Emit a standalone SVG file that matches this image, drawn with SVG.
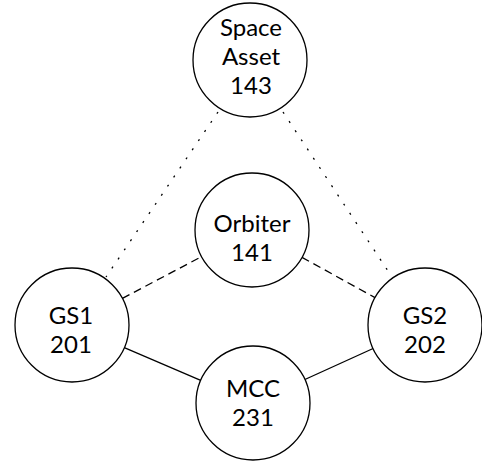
<svg xmlns="http://www.w3.org/2000/svg" width="482" height="462" viewBox="0 0 482 462">
<style>
.node circle{fill:#fff;stroke:#000;stroke-width:1.3}
.node text{font-family:Lato,"Open Sans",sans-serif;font-size:24px;fill:#000;text-anchor:middle}
.conn line{stroke:#000;stroke-width:1.3;fill:none}
.dot{stroke-dasharray:2 9;stroke-width:2.2}
.dash{stroke-dasharray:8 5}
</style>
<rect width="482" height="462" fill="#fff"/>
<g id="connectors" class="conn">
<line class="dot" x1="218" y1="112" x2="106" y2="277"/>
<line class="dot" x1="283" y1="112" x2="392" y2="277"/>
<line class="dash" x1="122.4" y1="298.4" x2="201.6" y2="256.6"/>
<line class="dash" x1="302" y1="257.4" x2="375" y2="297.6"/>
<line x1="124.3" y1="347.6" x2="200.7" y2="380.4"/>
<line x1="304.9" y1="379.5" x2="373.1" y2="348.5"/>
</g>
<g id="space-asset" class="node">
<circle cx="250" cy="60" r="57"/>
<text x="251" y="36">Space</text>
<text x="251" y="65">Asset</text>
<text x="251" y="94">143</text>
</g>
<g id="orbiter" class="node">
<circle cx="252" cy="230" r="57"/>
<text x="252" y="232">Orbiter</text>
<text x="252" y="261">141</text>
</g>
<g id="gs1" class="node">
<circle cx="72" cy="325" r="57"/>
<text x="71" y="324">GS1</text>
<text x="71" y="353">201</text>
</g>
<g id="gs2" class="node">
<circle cx="425" cy="325" r="57"/>
<text x="425" y="324">GS2</text>
<text x="425" y="353">202</text>
</g>
<g id="mcc" class="node">
<circle cx="253" cy="403" r="57"/>
<text x="253" y="397">MCC</text>
<text x="253" y="426">231</text>
</g>
</svg>
